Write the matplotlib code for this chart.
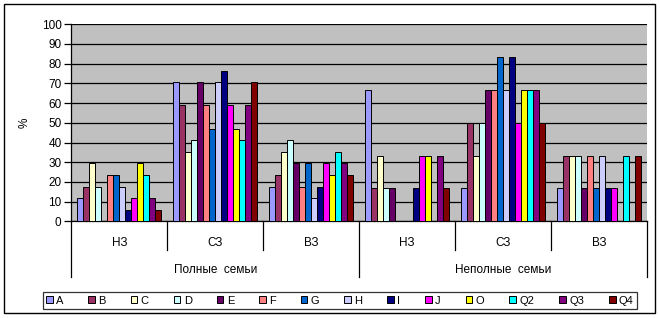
import matplotlib.pyplot as plt
import matplotlib.transforms as mtransforms
from matplotlib.patches import Rectangle, Patch
from matplotlib.lines import Line2D
import numpy as np

plt.rcParams['font.family'] = ['Liberation Sans', 'DejaVu Sans']

series = ['A', 'B', 'C', 'D', 'E', 'F', 'G', 'H', 'I', 'J', 'O', 'Q2', 'Q3', 'Q4']
colors = ['#9999FF', '#993366', '#FFFFCC', '#CCFFFF', '#660066', '#FF8080', '#0066CC',
          '#CCCCFF', '#000080', '#FF00FF', '#FFFF00', '#00FFFF', '#800080', '#800000']
groups = ['НЗ', 'СЗ', 'ВЗ', 'НЗ', 'СЗ', 'ВЗ']
families = ['Полные  семьи', 'Неполные  семьи']

# one row per group, one column per series (%)
values = np.array([
    [11.8, 17.6, 29.4, 17.6, 0.0, 23.5, 23.5, 17.6, 5.9, 11.8, 29.4, 23.5, 11.8, 5.9],
    [70.6, 58.8, 35.3, 41.2, 70.6, 58.8, 47.1, 70.6, 76.5, 58.8, 47.1, 41.2, 58.8, 70.6],
    [17.6, 23.5, 35.3, 41.2, 29.4, 17.6, 29.4, 11.8, 17.6, 29.4, 23.5, 35.3, 29.4, 23.5],
    [66.7, 16.7, 33.3, 16.7, 16.7, 0.0, 0.0, 0.0, 16.7, 33.3, 33.3, 0.0, 33.3, 16.7],
    [16.7, 50.0, 33.3, 50.0, 66.7, 66.7, 83.3, 66.7, 83.3, 50.0, 66.7, 66.7, 66.7, 50.0],
    [16.7, 33.3, 33.3, 33.3, 16.7, 33.3, 16.7, 33.3, 16.7, 16.7, 0.0, 33.3, 0.0, 33.3],
])

W, H = 660, 318
fig = plt.figure(figsize=(W / 100, H / 100), dpi=100)
ax = fig.add_axes([71.3 / W, 1 - 221.3 / H, (647 - 71.3) / W, (221.3 - 24.3) / H])
ax.set_facecolor('#c0c0c0')

x = np.arange(len(groups))
bw = 1 / 16
for i, s in enumerate(series):
    ax.bar(x + (i - 6.5) * bw, values[:, i], width=bw, color=colors[i],
           edgecolor='black', linewidth=0.7, zorder=3)

ax.set_xlim(-0.5, len(groups) - 0.5)
ax.set_ylim(0, 100)
ax.set_yticks(np.arange(0, 101, 10))
ax.yaxis.grid(True, color='black', linewidth=0.9, zorder=1)
ax.set_axisbelow(True)
ax.set_xticks([])
for side in ['top', 'right']:
    ax.spines[side].set_visible(False)
ax.spines['left'].set_linewidth(0.9)
ax.spines['bottom'].set_linewidth(0.9)
ax.tick_params(axis='y', length=5, width=0.9, labelsize=8.5, pad=2)
ax.set_ylabel('%', fontsize=8.5, labelpad=8)

# multi-level category axis
tr = mtransforms.blended_transform_factory(ax.transData, fig.transFigure)
def fy(py):
    return 1 - py / H

for k in range(len(groups) + 1):
    xb = k - 0.5
    bottom = 277 if k % 3 == 0 else 250
    fig.add_artist(Line2D([xb, xb], [fy(221.3), fy(bottom)], transform=tr,
                          color='black', linewidth=0.9))
for k, g in enumerate(groups):
    fig.text(k, fy(243), g, transform=tr, ha='center', va='center', fontsize=8.5)
for k, f in enumerate(families):
    fig.text(3 * k + 1, fy(270), f, transform=tr, ha='center', va='center', fontsize=8.5)

# legend
handles = [Patch(facecolor=c, edgecolor='black', linewidth=0.7) for c in colors]
leg = fig.legend(handles, series, ncol=len(series), loc='lower left',
                 bbox_to_anchor=(42.7 / W, fy(309), (637 - 42.7) / W, (309 - 289) / H),
                 mode='expand', frameon=True, fancybox=False, edgecolor='black',
                 fontsize=8, handlelength=0.6, handleheight=0.6, handletextpad=0.3,
                 borderpad=0.3, borderaxespad=0, columnspacing=1.0)
leg.get_frame().set_linewidth(0.9)

# outer chart border
fig.add_artist(Rectangle((4.3 / W, fy(313)), (655 - 4.3) / W, (313 - 4.3) / H,
                         transform=fig.transFigure, fill=False, edgecolor='black',
                         linewidth=1.0))

fig.savefig('out.png', dpi=100)
